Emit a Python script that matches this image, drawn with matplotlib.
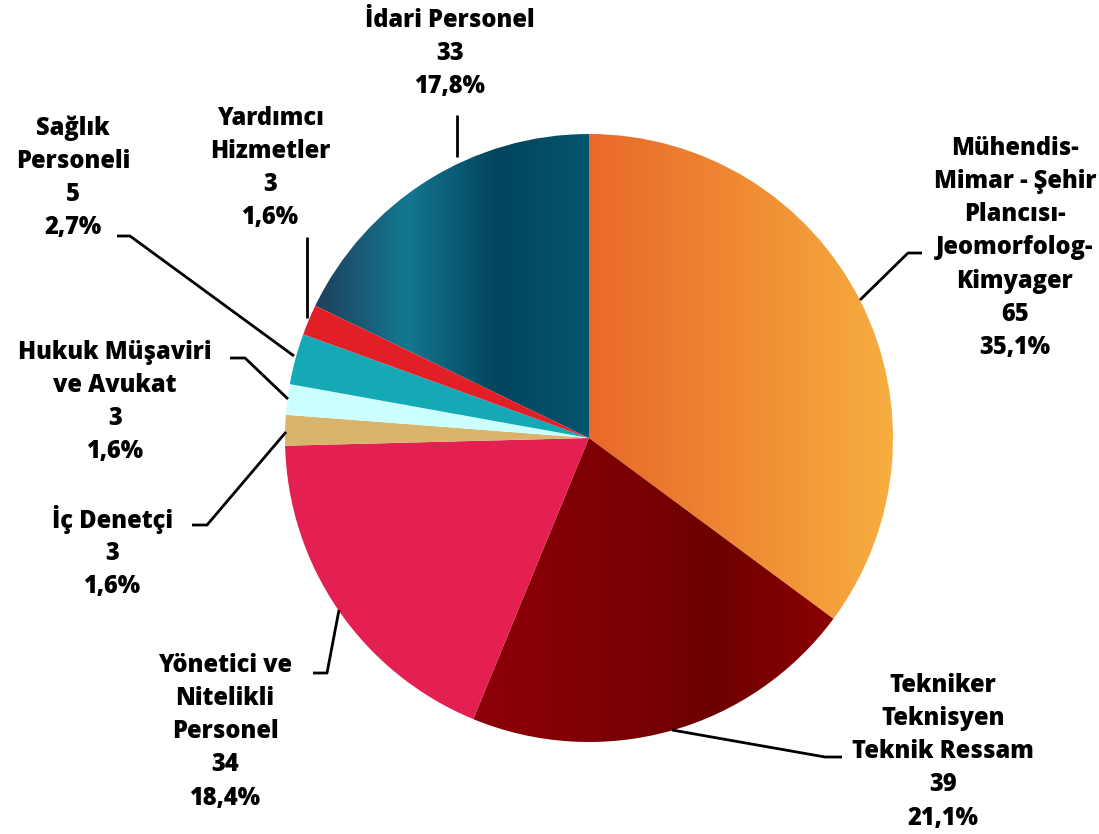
import numpy as np
import matplotlib
matplotlib.use("Agg")
import matplotlib.pyplot as plt
from matplotlib.colors import LinearSegmentedColormap

labels = ["Mühendis-\nMimar - Şehir\nPlancısı-\nJeomorfolog-\nKimyager",
          "Tekniker\nTeknisyen\nTeknik Ressam",
          "Yönetici ve\nNitelikli\nPersonel",
          "İç Denetçi",
          "Hukuk Müşaviri\nve Avukat",
          "Sağlık\nPersoneli",
          "Yardımcı\nHizmetler",
          "İdari Personel"]
values = [65, 39, 34, 3, 3, 5, 3, 33]
pcts = ["35,1%", "21,1%", "18,4%", "1,6%", "1,6%", "2,7%", "1,6%", "17,8%"]
colors = ["#EE7A2E", "#7A0000", "#E41F52", "#D8B46C", "#CCFFFF", "#14A9B5", "#E21F26", "#03506A"]
gradients = {
    0: ["#E9692A", "#EF8A33", "#F7AE40"],
    1: ["#8E0008", "#7E0004", "#6D0000", "#8B0000"],
    7: ["#1E3F5A", "#147791", "#02445D", "#04566F"],
}

W, H = 1099, 834
fig = plt.figure(figsize=(W / 100, H / 100), dpi=100)
ax = fig.add_axes([0, 0, 1, 1])

cx, cy, r = 589, H - 438, 304
wedges, _ = ax.pie(values, colors=colors, startangle=90, counterclock=False,
                   center=(cx, cy), radius=r, frame=True,
                   wedgeprops=dict(linewidth=0))
ax.set_xlim(0, W)
ax.set_ylim(0, H)
ax.set_aspect("equal")
ax.axis("off")

for i, stops in gradients.items():
    w = wedges[i]
    w.set_facecolor("none")
    th1, th2 = np.deg2rad(w.theta1), np.deg2rad(w.theta2)
    t = np.linspace(th1, th2, 200)
    xs = np.concatenate([[cx], cx + r * np.cos(t)])
    ys = np.concatenate([[cy], cy + r * np.sin(t)])
    x0, x1 = xs.min(), xs.max()
    y0, y1 = ys.min(), ys.max()
    cmap = LinearSegmentedColormap.from_list(f"g{i}", stops)
    grad = np.linspace(0, 1, 256).reshape(1, -1)
    im = ax.imshow(grad, cmap=cmap, extent=(x0, x1, y0, y1), aspect="auto",
                   origin="lower", zorder=0.5, interpolation="bicubic")
    im.set_clip_path(w)
ax.set_xlim(0, W)
ax.set_ylim(0, H)

font = dict(family="Open Sans", fontweight=800, fontsize=17, color="black",
            ha="center", va="center")

# label centers (pixels): x, first line y
label_pos = [(1015, 148), (943, 685), (225, 665), (112, 520), (115, 352),
             (73, 128), (270, 118), (450, 20)]
line_h = 33.3
for lab, v, p, (lx, ly) in zip(labels, values, pcts, label_pos):
    lines = lab.split("\n") + [str(v), p]
    for k, s in enumerate(lines):
        ax.text(lx, H - (ly + k * line_h), s, **font)

# leader lines (pixel coords)
leaders = [
    [(922, 253), (908, 253), (860, 300)],
    [(842, 757), (825, 757), (672, 730)],
    [(313, 673), (327, 673), (339, 610)],
    [(192, 525), (207, 525), (286, 432)],
    [(230, 358), (245, 358), (288, 399)],
    [(117, 236), (130, 236), (294, 356)],
    [(307, 237), (307, 318)],
    [(457, 115), (457, 157)],
]
for pts in leaders:
    px = [p[0] for p in pts]
    py = [H - p[1] for p in pts]
    ax.plot(px, py, color="black", lw=2, solid_capstyle="butt", zorder=3)

fig.savefig("out.png", dpi=100)
